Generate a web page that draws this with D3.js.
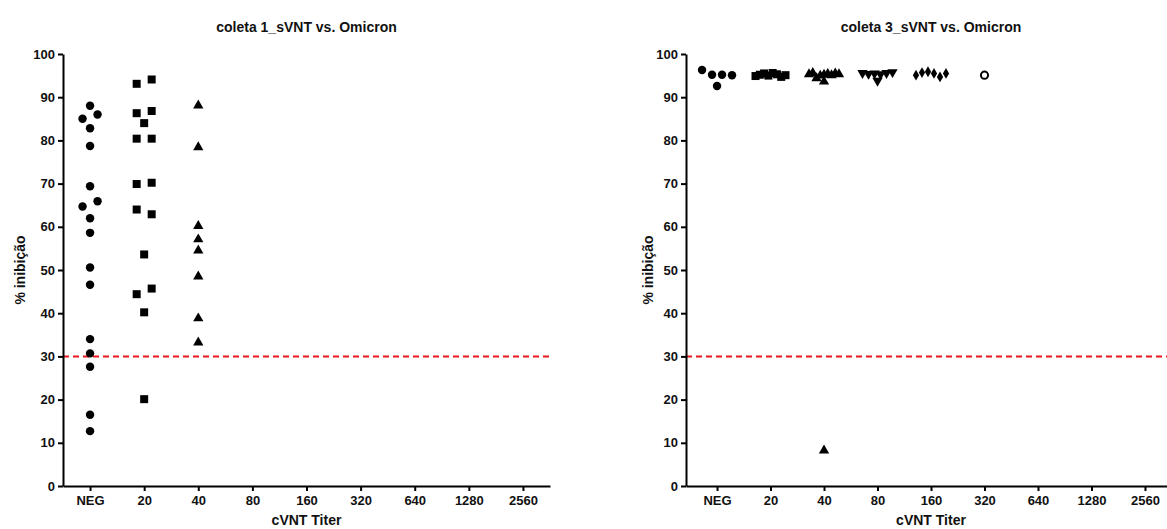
<!DOCTYPE html>
<html>
<head>
<meta charset="utf-8">
<script src="https://cdn.jsdelivr.net/npm/d3@7"></script>
<style>
  body { margin: 0; background: #fff; }
  text { font-family: Arial, "Liberation Sans", sans-serif; font-weight: bold; fill: #111; }
</style>
</head>
<body>
<svg id="chart" width="1167" height="529"></svg>
<script>
// categories on the x axis
var categories = ['NEG', '20', '40', '80', '160', '320', '640', '1280', '2560']
var yTicks = [0, 10, 20, 30, 40, 50, 60, 70, 80, 90, 100]
var cutoff = 30

// coleta 1 (values listed left to right inside each row)
var c1Neg = [88.0, 85.0, 86.0, 82.8, 78.7, 69.4, 64.7, 65.9, 62.0, 58.6, 50.6, 46.6, 34.0, 30.7, 27.6, 16.5, 12.7]
var c1T20 = [93.1, 94.1, 86.3, 86.8, 84.0, 80.4, 80.4, 69.9, 70.2, 64.0, 62.9, 53.6, 44.4, 45.7, 40.2, 20.1]
var c1T40 = [88.1, 78.4, 60.2, 57.1, 54.5, 48.5, 38.8, 33.2]

// coleta 3
var c3Neg = [96.3, 95.2, 95.2, 95.1, 92.6]
var c3T20 = [94.9, 95.2, 95.5, 95.0, 95.6, 95.3, 94.7, 95.1]
var c3T40 = [95.3, 95.6, 94.4, 95.0, 95.2, 95.4, 95.1, 95.5, 95.3, 93.6, 8.2]
var c3T80 = [95.6, 95.4, 95.5, 95.3, 95.6, 95.8, 93.8]
var c3T160 = [95.1, 95.7, 95.9, 95.5, 94.7, 95.5]
var c3T320 = [95.1]

var svg = d3.select('#chart')

var y = d3.scaleLinear().domain([0, 100]).range([486, 54])

var shapes = {
  circle: { type: d3.symbolCircle, size: 56 },
  square: { type: d3.symbolSquare, size: 64 },
  triangle: { type: d3.symbolTriangle, size: 46 },
  down: { type: d3.symbolTriangle, size: 46, rotate: 180 },
  diamond: { type: d3.symbolDiamond, size: 34 },
  open: { type: d3.symbolCircle, size: 40, open: true }
}

var panels = [
  {
    title: 'coleta 1_sVNT vs. Omicron',
    x0: 63, x1: 550, pad: 0.5, labelX: 25,
    groups: [
      { cat: 'NEG', values: c1Neg, shape: 'circle' },
      { cat: '20', values: c1T20, shape: 'square' },
      { cat: '40', values: c1T40, shape: 'triangle' }
    ]
  },
  {
    title: 'coleta 3_sVNT vs. Omicron',
    x0: 686, x1: 1176, pad: 0.58, labelX: 653,
    groups: [
      { cat: 'NEG', values: c3Neg, shape: 'circle' },
      { cat: '20', values: c3T20, shape: 'square' },
      { cat: '40', values: c3T40, shape: 'triangle' },
      { cat: '80', values: c3T80, shape: 'down' },
      { cat: '160', values: c3T160, shape: 'diamond' },
      { cat: '320', values: c3T320, shape: 'open' }
    ]
  }
]

// spread points that sit at nearly the same height side by side
function scatterDots (values, cx) {
  var order = values.map((v, i) => i).sort((a, b) => values[b] - values[a])
  var rows = []
  order.forEach(i => {
    var row = rows[rows.length - 1]
    if (row && values[row[0]] - values[i] < 1.5) row.push(i)
    else rows.push([i])
  })
  var out = []
  rows.forEach(row => {
    row.sort((a, b) => a - b)
    var n = row.length
    var step = n > 1 ? Math.min(15, 30 / (n - 1)) : 0
    row.forEach((i, k) => {
      out.push({ v: values[i], x: cx + (k - (n - 1) / 2) * step })
    })
  })
  return out
}

panels.forEach(p => {
  var g = svg.append('g')

  var x = d3.scalePoint().domain(categories).range([p.x0, p.x1]).padding(p.pad)

  // cut-off line
  g.append('line')
      .attr('x1', p.x0).attr('x2', p.x1)
      .attr('y1', y(cutoff)).attr('y2', y(cutoff))
      .attr('stroke', '#e8171c')
      .attr('stroke-width', 2)
      .attr('stroke-dasharray', '6,4')

  var yAxis = g.append('g')
      .attr('transform', `translate(${p.x0},0)`)
      .call(d3.axisLeft(y).tickValues(yTicks).tickSize(5).tickSizeOuter(0).tickPadding(3))
  var xAxis = g.append('g')
      .attr('transform', `translate(0,${y(0)})`)
      .call(d3.axisBottom(x).tickSize(5).tickSizeOuter(0).tickPadding(5))

  ;[yAxis, xAxis].forEach(a => {
    a.select('.domain').attr('stroke', '#000').attr('stroke-width', 2)
    a.selectAll('.tick line').attr('stroke', '#000').attr('stroke-width', 2)
    a.selectAll('.tick text').style('font-size', '13px').attr('fill', '#111')
  })

  g.append('text')
      .attr('x', (p.x0 + p.x1) / 2).attr('y', 32)
      .attr('text-anchor', 'middle')
      .style('font-size', '14px')
      .text(p.title)

  g.append('text')
      .attr('x', (p.x0 + p.x1) / 2).attr('y', 525)
      .attr('text-anchor', 'middle')
      .style('font-size', '14px')
      .text('cVNT Titer')

  g.append('text')
      .attr('transform', `translate(${p.labelX},${y(50)}) rotate(-90)`)
      .attr('text-anchor', 'middle')
      .style('font-size', '14px')
      .text('% inibição')

  p.groups.forEach(grp => {
    var s = shapes[grp.shape]
    var sym = d3.symbol().type(s.type).size(s.size)
    g.selectAll(null)
        .data(scatterDots(grp.values, x(grp.cat)))
        .enter()
        .append('path')
        .attr('d', sym)
        .attr('transform', d => `translate(${d.x},${y(d.v)})` + (s.rotate ? ` rotate(${s.rotate})` : ''))
        .attr('fill', s.open ? '#fff' : '#000')
        .attr('stroke', s.open ? '#000' : 'none')
        .attr('stroke-width', s.open ? 2 : 0)
  })
})
</script>
</body>
</html>
